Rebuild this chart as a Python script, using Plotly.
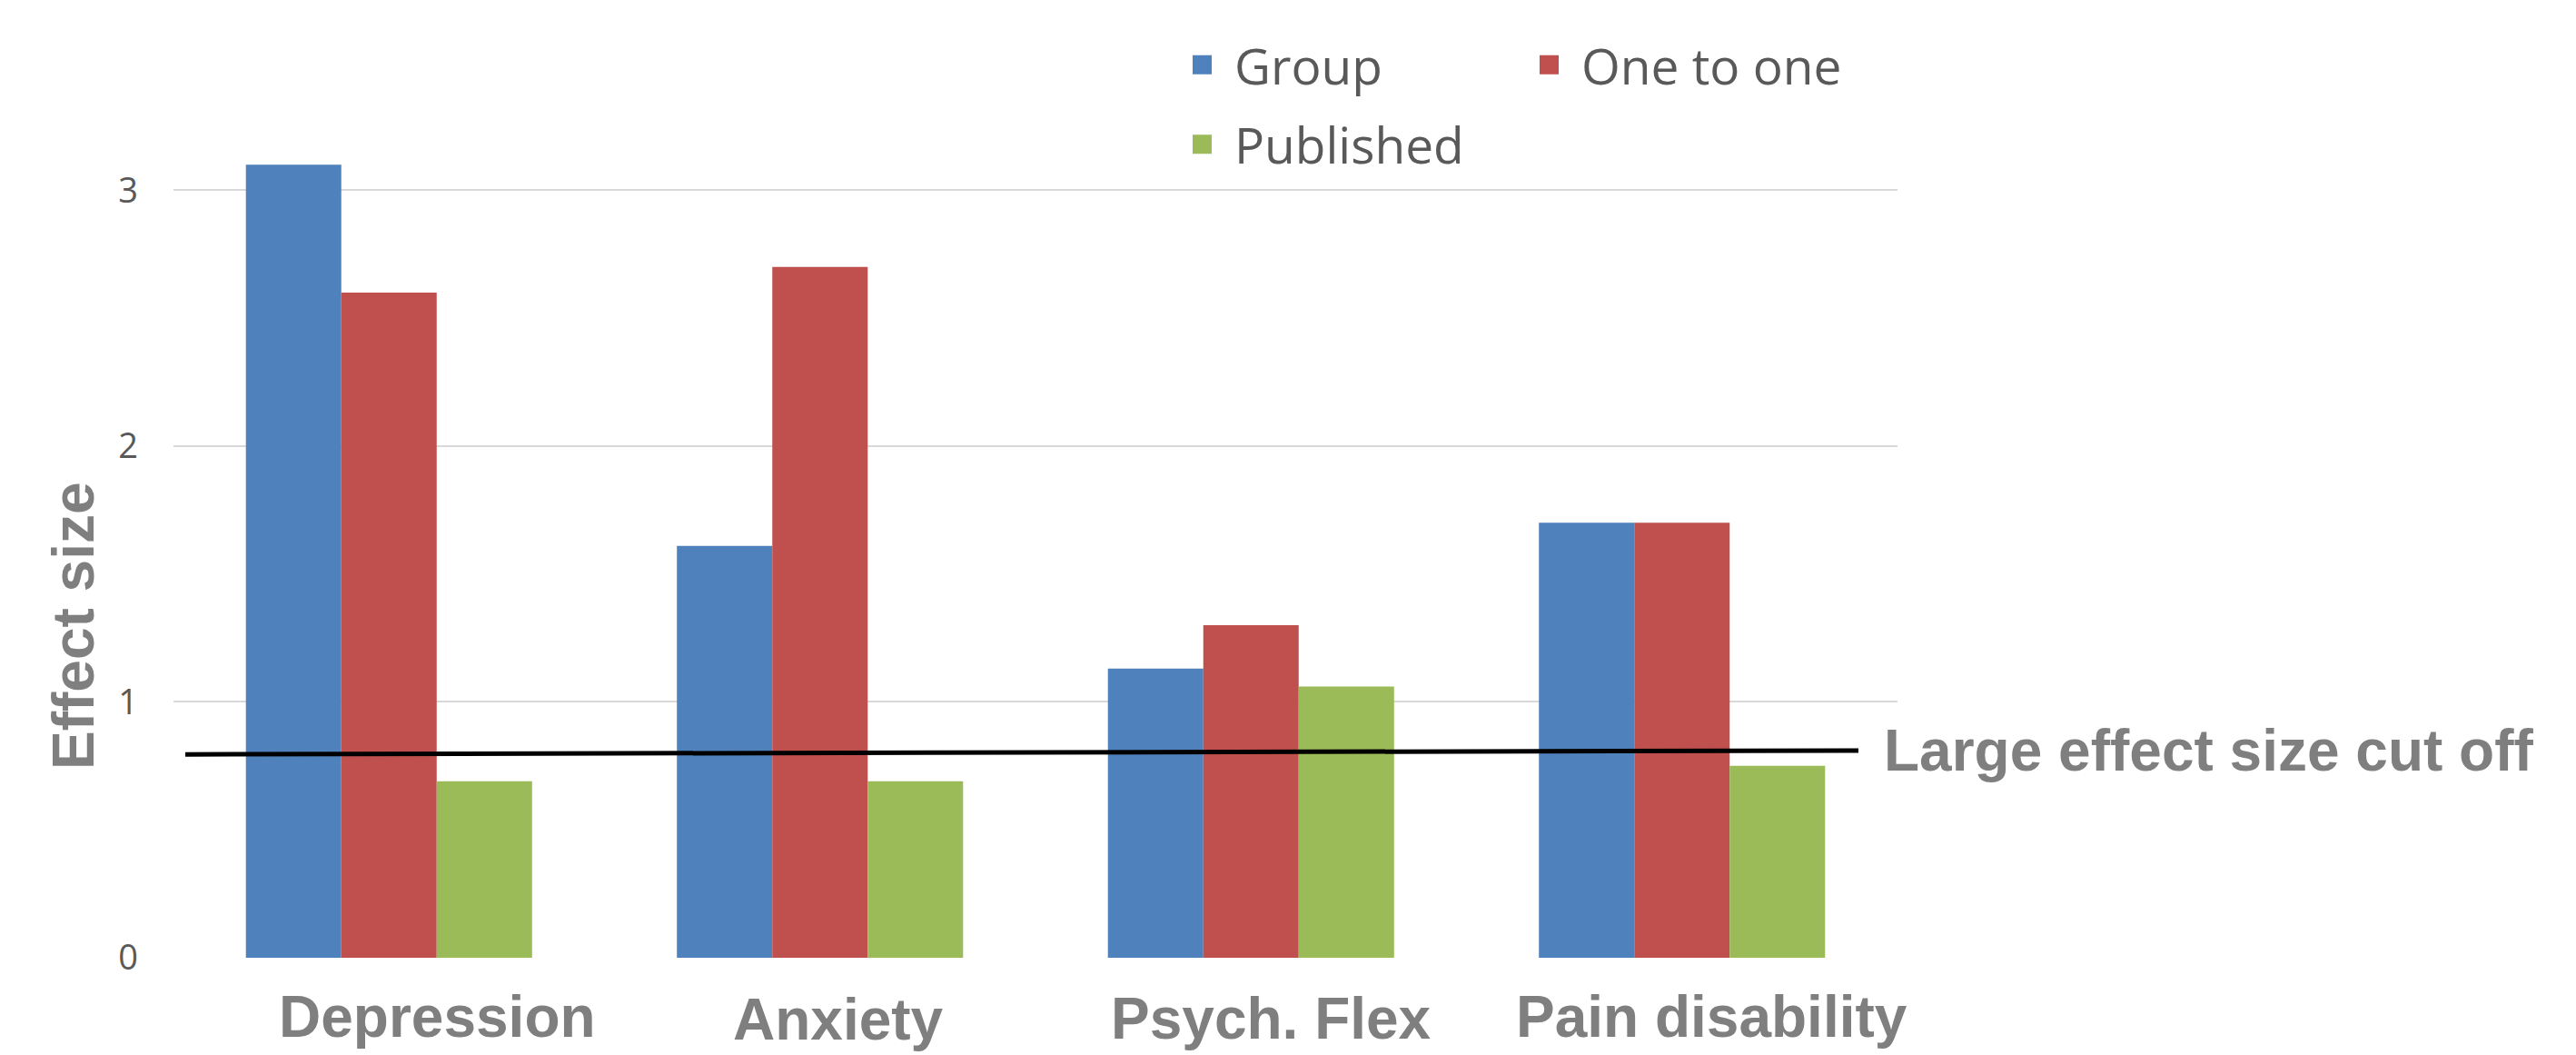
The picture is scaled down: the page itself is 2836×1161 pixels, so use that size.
import plotly.graph_objects as go

# ---- data ----
categories = ["Depression", "Anxiety", "Psych. Flex", "Pain disability"]
group_vals = [3.1, 1.61, 1.13, 1.7]
one_to_one_vals = [2.6, 2.7, 1.3, 1.7]
published_vals = [0.69, 0.69, 1.06, 0.75]
series_names = ["Group", "One to one", "Published"]
y_ticks = [0, 1, 2, 3]
cutoff_start = 0.795
cutoff_end = 0.81
cutoff_label = "Large effect size cut off"
y_title = "Effect size"

# ---- styling ----
colors = ["#4F81BD", "#C0504D", "#9BBB59"]
GRAY_BOLD = "#7F7F7F"
GRAY_TEXT = "#595959"
W, H = 2836, 1161
ML, MR, MT, MB = 191, 747, 153, 107
plot_h = H - MT - MB
label_xshift = [53, 20, 22, 33]
label_yshift = [0, -3, -2, 0]

fig = go.Figure()
for name, vals, col in zip(series_names, [group_vals, one_to_one_vals, published_vals], colors):
    fig.add_trace(go.Bar(x=categories, y=vals, name=name, marker=dict(color=col, line=dict(width=0)),
                         showlegend=False))

# legend entries (square symbols)
legend_map = {"Group": "legend", "One to one": "legend2", "Published": "legend"}
for name, col in zip(series_names, colors):
    fig.add_trace(go.Scatter(x=[None], y=[None], mode="markers", name=name,
                             marker=dict(symbol="square", size=16, color=col, line=dict(color=col, width=5)),
                             legend=legend_map[name], legendgroup=name, showlegend=True))

legend_common = dict(orientation="v", xanchor="left", yanchor="top",
                     font=dict(family="Open Sans", size=55, color=GRAY_TEXT),
                     itemwidth=61, tracegroupgap=13, bgcolor="rgba(0,0,0,0)", borderwidth=0)

def px_to_paper_x(px):
    return (px - ML) / (W - ML - MR)

def px_to_paper_y(py):
    return (H - MB - py) / plot_h

fig.update_layout(
    width=W, height=H,
    margin=dict(l=ML, r=MR, t=MT, b=MB, autoexpand=False),
    plot_bgcolor="white", paper_bgcolor="white",
    barmode="group", bargap=0.336, bargroupgap=0,
    legend=dict(x=px_to_paper_x(1288), y=px_to_paper_y(29), **legend_common),
    legend2=dict(x=px_to_paper_x(1670), y=px_to_paper_y(29), **legend_common),
    xaxis=dict(showticklabels=False, showgrid=False, zeroline=False, showline=False, ticks="",
               automargin=False, range=[-0.5, len(categories) - 0.5]),
    yaxis=dict(range=[0, 3.2], tickvals=y_ticks, ticktext=[str(t) for t in y_ticks],
               showgrid=True, gridcolor="#D9D9D9", gridwidth=2, zeroline=False, showline=False,
               ticks="", ticklabelstandoff=38, automargin=False,
               tickfont=dict(family="Open Sans", size=38, color=GRAY_TEXT)),
)

# cutoff line
fig.add_shape(type="line", xref="paper", yref="y",
              x0=px_to_paper_x(204), x1=px_to_paper_x(2046), y0=cutoff_start, y1=cutoff_end,
              line=dict(color="black", width=5))

fig.add_annotation(text="<b>" + cutoff_label + "</b>", xref="paper", yref="y",
                   x=px_to_paper_x(2072), y=cutoff_end,
                   xanchor="left", yanchor="middle", showarrow=False,
                   font=dict(family="Liberation Sans", size=64, color=GRAY_BOLD))

# y title
fig.add_annotation(text="<b>" + y_title + "</b>", xref="paper", yref="paper",
                   x=px_to_paper_x(81), y=px_to_paper_y(689), textangle=-90,
                   xanchor="center", yanchor="middle", showarrow=False,
                   font=dict(family="Liberation Sans", size=64, color=GRAY_BOLD))

# category labels
for cat, dx, dy in zip(categories, label_xshift, label_yshift):
    fig.add_annotation(text="<b>" + cat + "</b>", xref="x", yref="paper", x=cat, y=px_to_paper_y(1119),
                       xanchor="center", yanchor="middle", showarrow=False, xshift=dx, yshift=dy,
                       font=dict(family="Liberation Sans", size=64, color=GRAY_BOLD))

fig.write_html("out.html")
